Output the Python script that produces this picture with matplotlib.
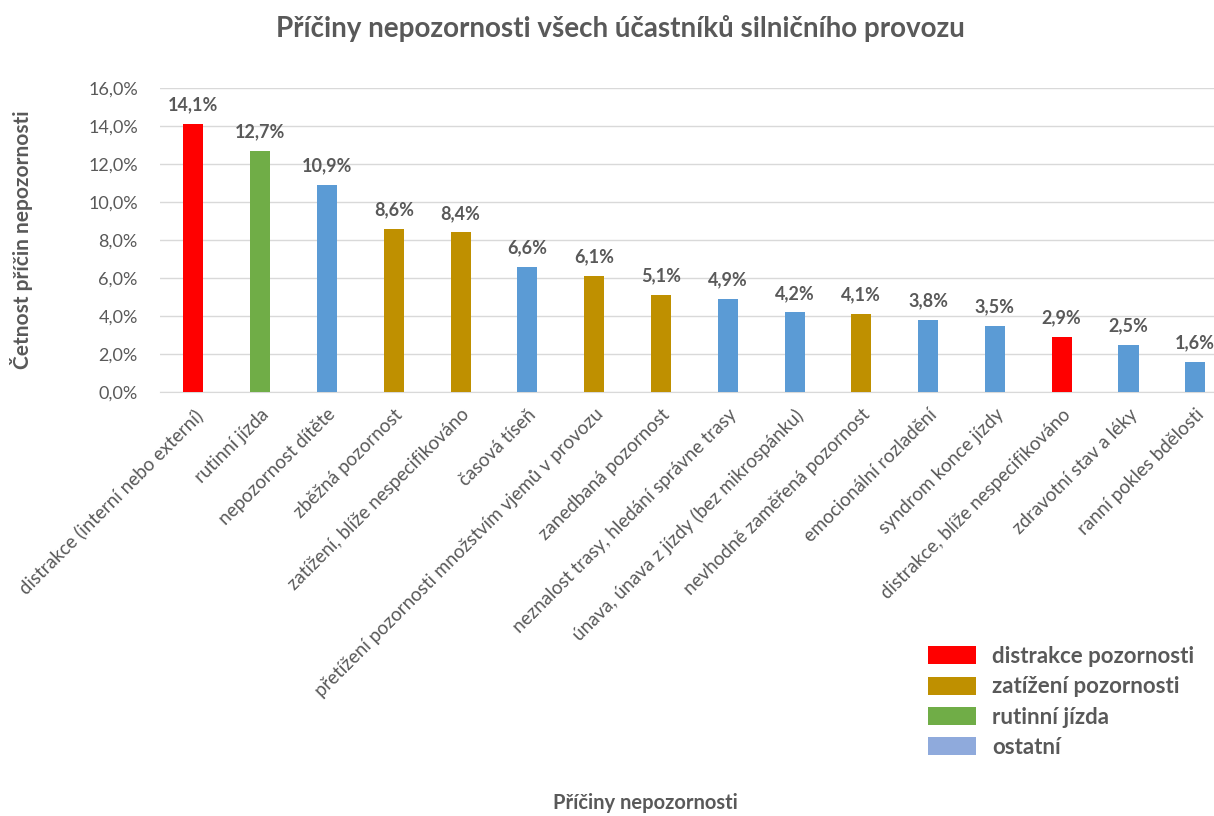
import matplotlib.pyplot as plt
from matplotlib.patches import Patch

categories = [
    "distrakce (interní nebo externí)",
    "rutinní jízda",
    "nepozornost dítěte",
    "zběžná pozornost",
    "zatížení, blíže nespecifikováno",
    "časová tíseň",
    "přetížení pozornosti množstvím vjemů v provozu",
    "zanedbaná pozornost",
    "neznalost trasy, hledání správne trasy",
    "únava, únava z jízdy (bez mikrospánku)",
    "nevhodně zaměřená pozornost",
    "emocionální rozladění",
    "syndrom konce jízdy",
    "distrakce, blíže nespecifikováno",
    "zdravotní stav a léky",
    "ranní pokles bdělosti",
]
values = [14.1, 12.7, 10.9, 8.6, 8.4, 6.6, 6.1, 5.1, 4.9, 4.2, 4.1, 3.8, 3.5, 2.9, 2.5, 1.6]
groups = ["distrakce", "rutina", "ostatni", "zatizeni", "zatizeni", "ostatni", "zatizeni",
          "zatizeni", "ostatni", "ostatni", "zatizeni", "ostatni", "ostatni", "distrakce",
          "ostatni", "ostatni"]

group_colors = {"distrakce": "#FF0000", "zatizeni": "#BF9000", "rutina": "#70AD47", "ostatni": "#5B9BD5"}
legend_labels = ["distrakce pozornosti", "zatížení pozornosti", "rutinní jízda", "ostatní"]
legend_colors = ["#FF0000", "#BF9000", "#70AD47", "#8FAADC"]

plt.rcParams["font.family"] = ["Lato", "DejaVu Sans"]
gray = "#595959"

fig = plt.figure(figsize=(12.14, 8.16), dpi=100)
ax = fig.add_axes([160 / 1214, 1 - 392 / 816, 1 - 160 / 1214, (392 - 88) / 816])

x = list(range(len(values)))
bars = ax.bar(x, values, width=0.3, color=[group_colors[g] for g in groups], zorder=3)
for xi, v in zip(x, values):
    ax.text(xi, v + 0.55, f"{v:.1f}%".replace(".", ","), ha="center", va="bottom",
            fontsize=13, fontweight="bold", color=gray)

ax.set_xlim(-0.5, 15.28)
ax.set_ylim(0, 16)
ax.set_yticks(range(0, 17, 2))
ax.set_yticklabels([f"{t},0%" for t in range(0, 17, 2)], fontsize=13, color=gray)
ax.yaxis.grid(True, color="#D9D9D9", linewidth=1, zorder=0)
ax.set_xticks(x)
ax.set_xticklabels(categories, rotation=45, ha="right", rotation_mode="anchor",
                   fontsize=13.5, color=gray)
ax.tick_params(axis="x", length=0, pad=10)
ax.tick_params(axis="y", length=0, pad=16)
for s in ["top", "right", "left"]:
    ax.spines[s].set_visible(False)
ax.spines["bottom"].set_color("#D9D9D9")

fig.text(22 / 1214, 1 - 240 / 816, "Četnost příčin nepozornosti", rotation=90, ha="center",
         va="center", fontsize=15, fontweight="bold", color=gray)
fig.text(645 / 1214, 1 - 803 / 816, "Příčiny nepozornosti", ha="center", va="center",
         fontsize=14.5, fontweight="bold", color=gray)
fig.text(620 / 1214, 1 - 28 / 816, "Příčiny nepozornosti všech účastníků silničního provozu",
         ha="center", va="center", fontsize=20, fontweight="bold", color=gray)

handles = [Patch(facecolor=c) for c in legend_colors]
fig.legend(handles, legend_labels, loc="upper left", bbox_to_anchor=(908 / 1214, 1 - 626 / 816),
           frameon=False, labelcolor=gray, handlelength=2.15, handleheight=0.85,
           handletextpad=0.75, labelspacing=0.42, prop={"weight": "bold", "size": 16})

fig.savefig("out.png", dpi=100)
